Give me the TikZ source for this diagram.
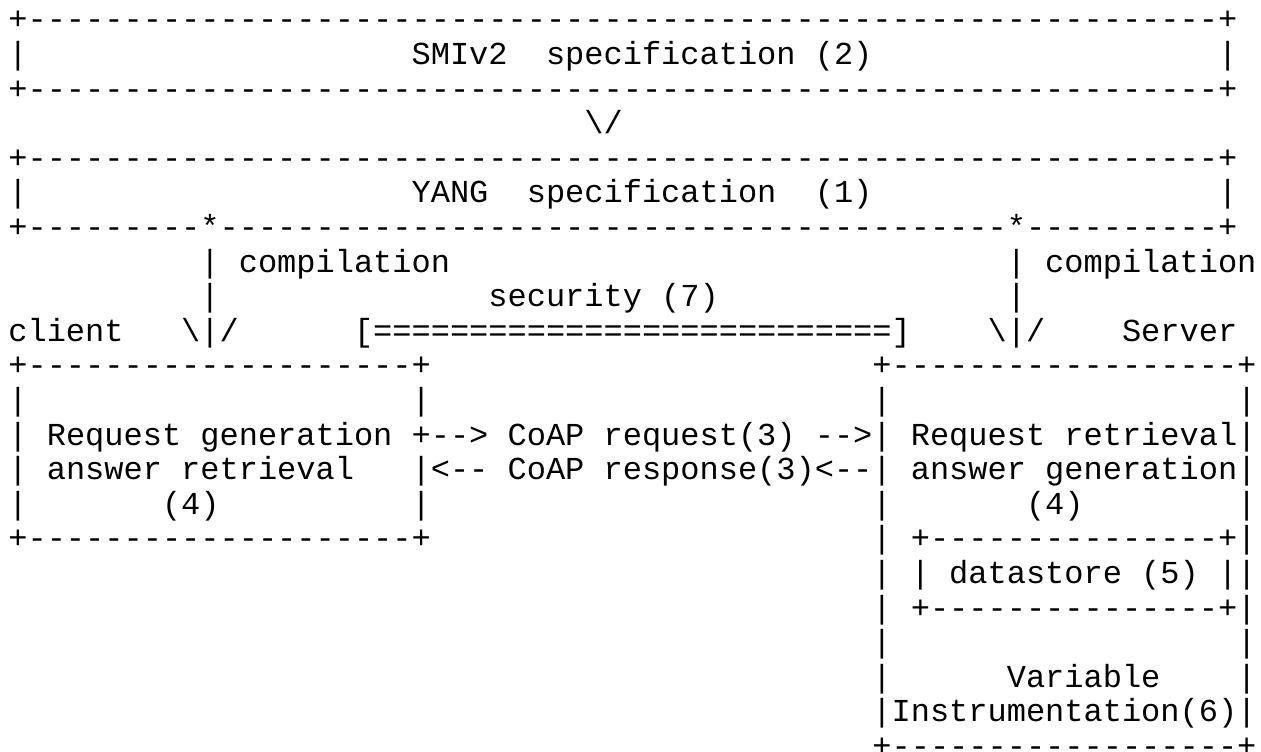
\documentclass[tikz,border=0pt]{standalone}
\usepackage{fontspec}
\setmonofont{Liberation Mono}
\ExplSyntaxOn
\cs_new:Npn \myrep #1#2 {\prg_replicate:nn{#1}{#2}}
\ExplSyntaxOff
\tikzset{txt/.style={anchor=base west, inner sep=0pt, outer sep=0pt, text=black,
  font=\ttfamily\fontsize{16pt}{17.3pt}\selectfont}}
\newcommand\seg[4]{\node[txt] (#1) at ({4.2pt+#2*9.6pt},{-14.9pt-#3*17.3pt}) {#4};}
\begin{document}
\begin{tikzpicture}
\fill[white] (0,0) rectangle (630.5pt,-375.5pt);
\useasboundingbox (0,0) rectangle (630.5pt,-375.5pt);
% top box
\seg{r0}{0}{0}{+\myrep{62}{-}+}
\seg{r1a}{0}{1}{|}
\seg{r1b}{21}{1}{SMIv2}
\seg{r1c}{28}{1}{specification (2)}
\seg{r1d}{63}{1}{|}
\seg{r2}{0}{2}{+\myrep{62}{-}+}
\seg{r3}{30}{3}{\textbackslash/}
% YANG box
\seg{r4}{0}{4}{+\myrep{62}{-}+}
\seg{r5a}{0}{5}{|}
\seg{r5b}{21}{5}{YANG}
\seg{r5c}{27}{5}{specification}
\seg{r5d}{42}{5}{(1)}
\seg{r5e}{63}{5}{|}
\seg{r6}{0}{6}{+\myrep{9}{-}*\myrep{41}{-}*\myrep{10}{-}+}
% compilation
\seg{r7a}{10}{7}{|}
\seg{r7b}{12}{7}{compilation}
\seg{r7c}{52}{7}{|}
\seg{r7d}{54}{7}{compilation}
\seg{r8a}{10}{8}{|}
\seg{r8b}{25}{8}{security (7)}
\seg{r8c}{52}{8}{|}
\seg{r9a}{0}{9}{client}
\seg{r9b}{9}{9}{\textbackslash|/}
\seg{r9c}{18}{9}{[\myrep{27}{=}]}
\seg{r9d}{51}{9}{\textbackslash|/}
\seg{r9e}{58}{9}{Server}
% client and server boxes
\seg{r10a}{0}{10}{+\myrep{20}{-}+}
\seg{r10b}{45}{10}{+\myrep{18}{-}+}
\seg{r11a}{0}{11}{|}
\seg{r11b}{21}{11}{|}
\seg{r11c}{45}{11}{|}
\seg{r11d}{64}{11}{|}
\seg{r12a}{0}{12}{|}
\seg{r12b}{2}{12}{Request generation}
\seg{r12c}{21}{12}{+-->}
\seg{r12d}{26}{12}{CoAP request(3)}
\seg{r12e}{42}{12}{-->|}
\seg{r12f}{47}{12}{Request retrieval|}
\seg{r13a}{0}{13}{|}
\seg{r13b}{2}{13}{answer retrieval}
\seg{r13c}{21}{13}{|<--}
\seg{r13d}{26}{13}{CoAP response(3)<--|}
\seg{r13e}{47}{13}{answer generation|}
\seg{r14a}{0}{14}{|}
\seg{r14b}{8}{14}{(4)}
\seg{r14c}{21}{14}{|}
\seg{r14d}{45}{14}{|}
\seg{r14e}{53}{14}{(4)}
\seg{r14f}{64}{14}{|}
\seg{r15a}{0}{15}{+\myrep{20}{-}+}
\seg{r15b}{45}{15}{|}
\seg{r15c}{47}{15}{+\myrep{15}{-}+|}
\seg{r16a}{45}{16}{|}
\seg{r16b}{47}{16}{|}
\seg{r16c}{49}{16}{datastore (5)}
\seg{r16d}{63}{16}{||}
\seg{r17a}{45}{17}{|}
\seg{r17b}{47}{17}{+\myrep{15}{-}+|}
\seg{r18a}{45}{18}{|}
\seg{r18b}{64}{18}{|}
\seg{r19a}{45}{19}{|}
\seg{r19b}{52}{19}{Variable}
\seg{r19c}{64}{19}{|}
\seg{r20}{45}{20}{|Instrumentation(6)|}
\seg{r21}{45}{21}{+\myrep{18}{-}+}
\end{tikzpicture}
\end{document}
